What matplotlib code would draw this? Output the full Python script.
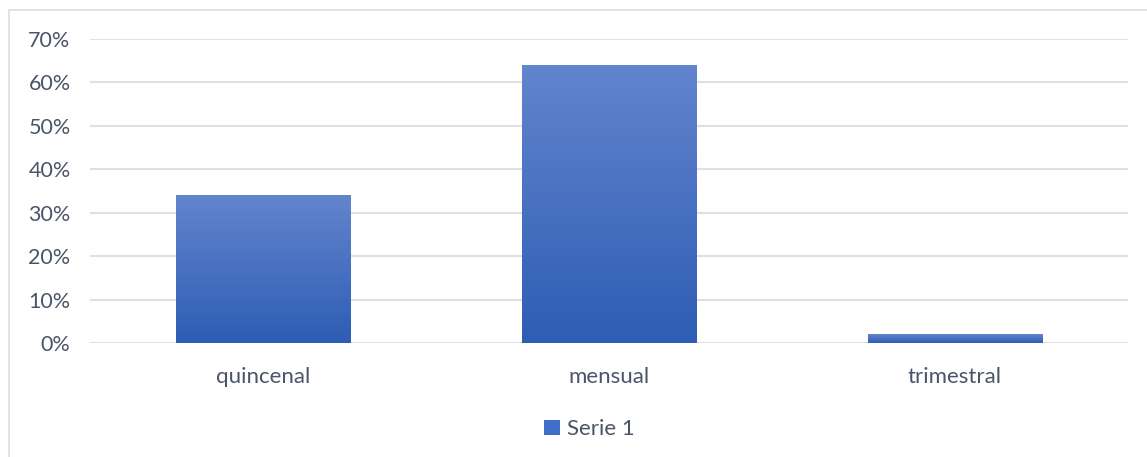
import numpy as np
from matplotlib import pyplot as plt
from matplotlib.colors import LinearSegmentedColormap
from matplotlib.patches import Rectangle

categorias = ['quincenal', 'mensual', 'trimestral']
valores = [0.34, 0.64, 0.02]
serie = 'Serie 1'

plt.rcParams['font.family'] = ['Lato', 'DejaVu Sans']
txt_color = '#4A5568'
grid_color = '#DDE1E7'

fig = plt.figure(figsize=(11.47, 4.57), dpi=100)
# marco exterior del grafico
fig.patches.append(Rectangle((9 / 1147, -0.01), 1.2, 1 - 10 / 457 + 0.01, transform=fig.transFigure,
                             fill=False, edgecolor='#D9DDE3', linewidth=1.2))

ax = fig.add_axes([90 / 1147, 1 - 343 / 457, 1038 / 1147, 304 / 457])
x = np.arange(len(categorias))
bars = ax.bar(x, valores, width=0.503, color='#3F6FC8', label=serie, zorder=2)

# degradado vertical en cada barra
cmap = LinearSegmentedColormap.from_list('excel', ['#2E5DB5', '#6285CD'])
grad = np.linspace(0, 1, 256).reshape(-1, 1)
for b in bars:
    x0, y0, w, h = b.get_x(), b.get_y(), b.get_width(), b.get_height()
    ax.imshow(grad, cmap=cmap, aspect='auto', origin='lower',
              extent=[x0, x0 + w, y0, y0 + h], zorder=3)
    b.set_facecolor('none')

ax.set_xlim(-0.5, len(categorias) - 0.5)
ax.set_ylim(0, 0.70)
ax.set_yticks(np.arange(0, 0.71, 0.10))
ax.set_yticklabels([f'{int(round(t * 100))}%' for t in np.arange(0, 0.71, 0.10)])
ax.set_xticks(x)
ax.set_xticklabels(categorias)
ax.yaxis.grid(True, color=grid_color, linewidth=1.5, zorder=0)
ax.set_axisbelow(True)
for s in ax.spines.values():
    s.set_visible(False)
ax.tick_params(axis='both', length=0, colors=txt_color)
ax.tick_params(axis='x', pad=17, labelsize=16)
ax.tick_params(axis='y', pad=14, labelsize=15.5)

leg = ax.legend(loc='upper center', bbox_to_anchor=(0.481, -0.185), frameon=False,
                fontsize=16, handlelength=0.7, handleheight=0.7, handletextpad=0.3)
for t in leg.get_texts():
    t.set_color(txt_color)
leg.legend_handles[0].set_facecolor('#3F6FC8')

plt.savefig('out.png', dpi=100)
